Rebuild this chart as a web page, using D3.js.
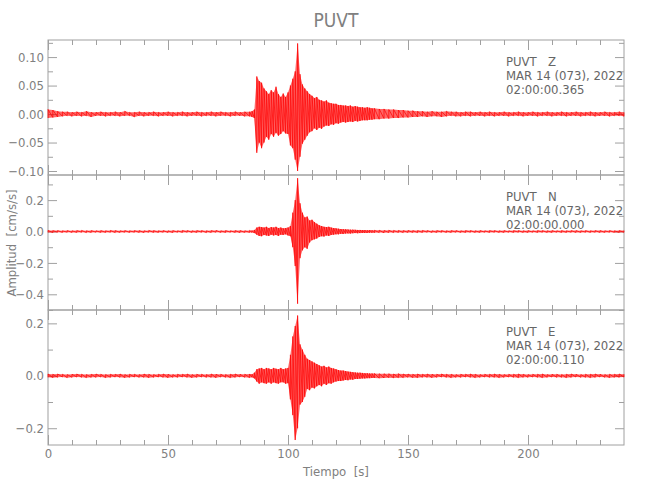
<!DOCTYPE html>
<html>
<head>
<meta charset="utf-8">
<script src="https://cdn.jsdelivr.net/npm/d3@7"></script>
<style>
  body { margin: 0; background: #fff; }
  svg text { font-family: "Liberation Sans Narrow", "DejaVu Sans Condensed", sans-serif; }
</style>
</head>
<body>
<script>
// Tiempo de cada muestra (s): 2 s en el ruido, 1 s durante el evento
const tiempo = [
  0,2,4,6,8,10,12,14,16,18,20,22,24,26,28,30,32,34,36,38,40,42,44,46,48,50,52,54,56,58,60,62,64,66,68,70,72,74,76,78,80,82,84,
  85,86,87,88,89,90,91,92,93,94,95,96,97,98,99,100,101,102,103,104,105,106,107,108,109,110,
  111,112,113,114,115,116,117,118,119,120,121,122,123,124,125,126,127,128,129,130,131,132,133,134,135,
  136,138,140,142,144,146,148,150,152,154,156,158,160,162,164,166,168,170,172,174,176,178,180,182,184,186,188,
  190,192,194,196,198,200,202,204,206,208,210,212,214,216,218,220,222,224,226,228,230,232,234,236,238,240
];

// Componente Z: envolvente max / min (cm/s/s)
const zMax = [
  0.008,0.007,0.005,0.004,0.004,0.003,0.004,0.003,0.005,0.003,0.003,0.004,0.003,0.003,0.004,0.003,0.005,0.003,0.003,0.004,
  0.003,0.003,0.004,0.003,0.003,0.004,0.003,0.003,0.004,0.003,0.003,0.004,0.003,0.003,0.004,0.003,0.004,0.003,0.003,0.004,
  0.003,0.004,0.004,
  0.005,0.008,0.066,0.058,0.055,0.045,0.040,0.035,0.042,0.038,0.048,0.035,0.030,0.036,0.030,0.038,0.050,0.062,0.075,0.124,
  0.070,0.052,0.045,0.040,0.035,0.032,0.028,0.030,0.025,0.024,0.022,0.024,0.020,0.019,0.018,0.018,0.016,0.016,0.015,0.015,
  0.014,0.015,0.013,0.014,0.013,0.012,0.012,0.011,0.012,0.011,0.010,
  0.010,0.009,0.009,0.008,0.008,0.007,0.007,0.006,0.006,0.005,0.005,0.004,0.005,0.004,0.004,0.005,0.004,0.004,0.003,0.004,
  0.004,0.003,0.004,0.003,0.004,0.003,0.003,0.004,0.003,0.003,0.004,0.003,0.003,0.004,0.003,0.003,0.004,0.003,0.003,0.004,
  0.003,0.003,0.004,0.003,0.003,0.004,0.003,0.003,0.004,0.003,0.003,0.004,0.003
];
const zMin = [
  -0.007,-0.006,-0.005,-0.004,-0.003,-0.004,-0.003,-0.004,-0.003,-0.005,-0.003,-0.003,-0.004,-0.003,-0.003,-0.004,-0.003,-0.003,-0.005,-0.003,
  -0.004,-0.003,-0.003,-0.004,-0.003,-0.003,-0.004,-0.003,-0.003,-0.004,-0.003,-0.003,-0.004,-0.003,-0.003,-0.004,-0.003,-0.003,-0.004,-0.003,
  -0.003,-0.004,-0.004,
  -0.005,-0.007,-0.068,-0.050,-0.060,-0.050,-0.040,-0.045,-0.035,-0.040,-0.033,-0.038,-0.035,-0.030,-0.034,-0.035,-0.055,-0.060,-0.080,-0.100,
  -0.075,-0.052,-0.045,-0.038,-0.032,-0.030,-0.025,-0.028,-0.024,-0.026,-0.022,-0.020,-0.021,-0.018,-0.019,-0.016,-0.017,-0.015,-0.014,-0.015,
  -0.014,-0.013,-0.014,-0.012,-0.013,-0.012,-0.011,-0.011,-0.011,-0.010,-0.010,
  -0.009,-0.009,-0.008,-0.008,-0.007,-0.007,-0.006,-0.006,-0.005,-0.005,-0.004,-0.005,-0.004,-0.004,-0.005,-0.004,-0.003,-0.004,-0.004,-0.003,
  -0.004,-0.003,-0.003,-0.004,-0.003,-0.004,-0.003,-0.003,-0.004,-0.003,-0.003,-0.004,-0.003,-0.003,-0.004,-0.003,-0.003,-0.004,-0.003,-0.003,
  -0.004,-0.003,-0.003,-0.004,-0.003,-0.003,-0.004,-0.003,-0.003,-0.004,-0.003,-0.003,-0.004
];

// Componente N
const nMax = [
  0.007,0.006,0.006,0.005,0.006,0.005,0.006,0.007,0.005,0.006,0.005,0.006,0.005,0.007,0.006,0.005,0.006,0.005,0.006,0.006,
  0.005,0.007,0.006,0.005,0.006,0.005,0.006,0.005,0.007,0.006,0.005,0.006,0.006,0.005,0.006,0.007,0.005,0.006,0.005,0.006,
  0.006,0.005,0.007,
  0.006,0.010,0.025,0.030,0.028,0.025,0.030,0.022,0.028,0.025,0.030,0.022,0.025,0.020,0.022,0.025,0.035,0.120,0.200,0.340,
  0.180,0.120,0.090,0.095,0.070,0.075,0.060,0.050,0.040,0.035,0.030,0.028,0.030,0.025,0.022,0.020,0.018,0.016,0.015,0.014,
  0.013,0.012,0.012,0.011,0.010,0.010,0.009,0.009,0.008,0.009,0.008,
  0.008,0.008,0.007,0.008,0.007,0.007,0.006,0.007,0.006,0.006,0.007,0.006,0.005,0.006,0.006,0.005,0.006,0.006,0.005,0.006,
  0.006,0.005,0.006,0.005,0.006,0.006,0.005,0.006,0.005,0.006,0.006,0.005,0.006,0.005,0.006,0.006,0.005,0.006,0.005,0.006,
  0.005,0.006,0.006,0.005,0.006,0.005,0.006,0.006,0.005,0.006,0.005,0.006,0.006
];
const nMin = [
  -0.006,-0.007,-0.005,-0.006,-0.005,-0.006,-0.006,-0.005,-0.007,-0.006,-0.005,-0.006,-0.006,-0.005,-0.007,-0.006,-0.005,-0.006,-0.005,-0.006,
  -0.007,-0.005,-0.006,-0.006,-0.005,-0.006,-0.007,-0.005,-0.006,-0.005,-0.006,-0.006,-0.005,-0.007,-0.006,-0.005,-0.006,-0.006,-0.005,-0.006,
  -0.007,-0.006,-0.006,
  -0.006,-0.010,-0.020,-0.028,-0.030,-0.022,-0.025,-0.028,-0.020,-0.025,-0.022,-0.028,-0.020,-0.022,-0.018,-0.025,-0.030,-0.100,-0.220,-0.460,
  -0.170,-0.120,-0.100,-0.110,-0.070,-0.055,-0.050,-0.045,-0.035,-0.030,-0.032,-0.025,-0.028,-0.022,-0.020,-0.018,-0.018,-0.015,-0.016,-0.013,
  -0.012,-0.013,-0.011,-0.010,-0.011,-0.010,-0.009,-0.009,-0.009,-0.008,-0.008,
  -0.008,-0.007,-0.008,-0.007,-0.007,-0.006,-0.007,-0.006,-0.006,-0.007,-0.006,-0.005,-0.006,-0.006,-0.005,-0.006,-0.006,-0.005,-0.006,-0.006,
  -0.005,-0.006,-0.006,-0.005,-0.006,-0.005,-0.006,-0.006,-0.005,-0.006,-0.005,-0.006,-0.006,-0.005,-0.006,-0.005,-0.006,-0.006,-0.005,-0.006,
  -0.006,-0.005,-0.006,-0.006,-0.005,-0.006,-0.005,-0.006,-0.006,-0.005,-0.006,-0.006,-0.005
];

// Componente E
const eMax = [
  0.007,0.006,0.007,0.006,0.005,0.006,0.007,0.006,0.005,0.006,0.007,0.006,0.005,0.006,0.006,0.007,0.005,0.006,0.006,0.005,
  0.007,0.006,0.005,0.006,0.007,0.006,0.005,0.006,0.006,0.007,0.005,0.006,0.006,0.005,0.007,0.006,0.006,0.005,0.006,0.007,
  0.006,0.006,0.007,
  0.006,0.012,0.025,0.028,0.030,0.025,0.030,0.028,0.025,0.030,0.027,0.025,0.030,0.025,0.028,0.030,0.080,0.150,0.190,0.230,
  0.120,0.100,0.080,0.065,0.060,0.055,0.050,0.045,0.040,0.035,0.038,0.032,0.035,0.030,0.028,0.025,0.022,0.020,0.020,0.018,
  0.016,0.015,0.014,0.013,0.012,0.012,0.011,0.010,0.010,0.009,0.009,
  0.009,0.008,0.008,0.008,0.007,0.008,0.007,0.007,0.006,0.007,0.006,0.007,0.006,0.006,0.007,0.006,0.006,0.005,0.006,0.006,
  0.007,0.006,0.005,0.006,0.006,0.007,0.006,0.005,0.006,0.006,0.007,0.006,0.005,0.006,0.006,0.007,0.005,0.006,0.006,0.005,
  0.006,0.007,0.006,0.005,0.006,0.006,0.007,0.006,0.005,0.006,0.006,0.007,0.006
];
const eMin = [
  -0.006,-0.007,-0.006,-0.005,-0.007,-0.006,-0.005,-0.006,-0.007,-0.006,-0.006,-0.005,-0.007,-0.006,-0.005,-0.006,-0.007,-0.006,-0.005,-0.006,
  -0.006,-0.007,-0.006,-0.005,-0.006,-0.007,-0.006,-0.006,-0.005,-0.006,-0.007,-0.006,-0.005,-0.006,-0.006,-0.007,-0.005,-0.006,-0.007,-0.006,
  -0.005,-0.006,-0.007,
  -0.006,-0.010,-0.022,-0.030,-0.025,-0.028,-0.030,-0.025,-0.030,-0.025,-0.028,-0.030,-0.025,-0.025,-0.030,-0.028,-0.090,-0.150,-0.245,-0.200,
  -0.110,-0.100,-0.080,-0.050,-0.055,-0.045,-0.048,-0.040,-0.035,-0.040,-0.030,-0.035,-0.028,-0.030,-0.025,-0.022,-0.020,-0.020,-0.018,-0.016,
  -0.017,-0.014,-0.015,-0.012,-0.012,-0.011,-0.010,-0.010,-0.009,-0.009,-0.008,
  -0.008,-0.009,-0.008,-0.007,-0.008,-0.007,-0.007,-0.006,-0.007,-0.007,-0.006,-0.006,-0.007,-0.006,-0.005,-0.006,-0.007,-0.006,-0.006,-0.005,
  -0.006,-0.007,-0.006,-0.005,-0.006,-0.006,-0.007,-0.006,-0.005,-0.006,-0.007,-0.006,-0.006,-0.005,-0.006,-0.007,-0.006,-0.005,-0.006,-0.006,
  -0.007,-0.006,-0.005,-0.006,-0.006,-0.007,-0.006,-0.005,-0.006,-0.007,-0.006,-0.006,-0.005
];

// Rangos y marcas de los ejes
const zRange = [-0.107, 0.13];
const nRange = [-0.5, 0.36];
const eRange = [-0.264, 0.251];
const zTicks = [-0.10, -0.05, 0.00, 0.05, 0.10];
const nTicks = [-0.4, -0.2, 0.0, 0.2];
const eTicks = [-0.2, 0.0, 0.2];
const xTicks = [0, 50, 100, 150, 200];

const estacion = "PUVT";
const fecha = "MAR 14 (073), 2022";
const componentes = ["Z", "N", "E"];
const horas = ["02:00:00.365", "02:00:00.000", "02:00:00.110"];

// --- dibujo ---
const width = 650, height = 500;
const left = 48, right = 624;
const panelTops = [40, 175, 310];
const panelH = 135;
const axisColor = "#a0a0a0", textColor = "#808080";

const svg = d3.select("body").append("svg")
  .attr("width", width)
  .attr("height", height);

const x = d3.scaleLinear().domain([0, 240]).range([left, right]);

const paneles = [
  { max: zMax, min: zMin, dom: zRange, ticks: zTicks, minorStep: 0.025, fmt: ".2f" },
  { max: nMax, min: nMin, dom: nRange, ticks: nTicks, minorStep: 0.1, fmt: ".1f" },
  { max: eMax, min: eMin, dom: eRange, ticks: eTicks, minorStep: 0.1, fmt: ".1f" }
];

paneles.forEach((p, i) => {
  if (p.max.length !== tiempo.length || p.min.length !== tiempo.length) {
    console.error("largo distinto", i, p.max.length, p.min.length, tiempo.length);
  }
  const top = panelTops[i], bottom = top + panelH;
  const y = d3.scaleLinear().domain(p.dom).range([bottom, top]);
  const g = svg.append("g");

  // marco
  g.append("rect")
    .attr("x", left).attr("y", top)
    .attr("width", right - left).attr("height", panelH)
    .attr("fill", "none").attr("stroke", axisColor).attr("stroke-width", 1);

  const minorY = d3.range(Math.ceil(p.dom[0] / p.minorStep) * p.minorStep, p.dom[1], p.minorStep)
    .filter(v => !p.ticks.some(t => Math.abs(t - v) < 1e-6));
  const minorX = d3.range(10, 240, 10).filter(v => v % 50 !== 0);

  function addAxis(axis, tx, ty, labels) {
    const a = g.append("g").attr("transform", `translate(${tx},${ty})`).call(axis);
    a.select(".domain").remove();
    a.selectAll("line").attr("stroke", axisColor);
    a.selectAll("text").attr("fill", textColor).attr("font-size", 13);
    if (!labels) a.selectAll("text").remove();
    return a;
  }

  // eje y izquierdo / derecho
  addAxis(d3.axisLeft(y).tickValues(p.ticks).tickSize(-9).tickPadding(4).tickFormat(d3.format(p.fmt)), left, 0, true);
  addAxis(d3.axisLeft(y).tickValues(minorY).tickSize(-5), left, 0, false);
  addAxis(d3.axisRight(y).tickValues(p.ticks).tickSize(-9), right, 0, false);
  addAxis(d3.axisRight(y).tickValues(minorY).tickSize(-5), right, 0, false);

  // eje x arriba / abajo
  addAxis(d3.axisTop(x).tickValues(xTicks).tickSize(-10), 0, top, false);
  addAxis(d3.axisTop(x).tickValues(minorX).tickSize(-5), 0, top, false);
  addAxis(d3.axisBottom(x).tickValues(xTicks).tickSize(-10).tickPadding(4), 0, bottom, i === 2);
  addAxis(d3.axisBottom(x).tickValues(minorX).tickSize(-5), 0, bottom, false);

  // senal: banda min/max y trazo en diente de sierra
  const filas = tiempo.map((t, k) => ({ t, hi: p.max[k], lo: p.min[k] }));
  g.append("path")
    .datum(filas)
    .attr("fill", "#ff0000")
    .attr("fill-opacity", 0.6)
    .attr("d", d3.area().x(d => x(d.t)).y0(d => y(d.lo)).y1(d => y(d.hi)));

  const zig = [];
  filas.forEach(d => { zig.push([d.t, d.lo], [d.t, d.hi]); });
  g.append("path")
    .datum(zig)
    .attr("fill", "none")
    .attr("stroke", "#ff0000")
    .attr("stroke-width", 0.7)
    .attr("d", d3.line().x(d => x(d[0])).y(d => y(d[1])));

  // etiquetas de estacion
  const info = g.append("text")
    .attr("x", 506).attr("y", top + 26)
    .attr("fill", "#666").attr("font-size", 13)
    .style("white-space", "pre");
  info.append("tspan").attr("x", 506).text(`${estacion}   ${componentes[i]}`);
  info.append("tspan").attr("x", 506).attr("dy", 14).text(fecha);
  info.append("tspan").attr("x", 506).attr("dy", 14).text(horas[i]);
});

// titulo y nombres de ejes
svg.append("text")
  .attr("x", (left + right) / 2).attr("y", 27)
  .attr("text-anchor", "middle")
  .attr("fill", textColor).attr("font-size", 19)
  .text(estacion);

svg.append("text")
  .attr("x", (left + right) / 2).attr("y", 476)
  .attr("text-anchor", "middle")
  .attr("fill", textColor).attr("font-size", 13)
  .style("white-space", "pre")
  .text("Tiempo  [s]");

svg.append("text")
  .attr("transform", "translate(16,243) rotate(-90)")
  .attr("text-anchor", "middle")
  .attr("fill", textColor).attr("font-size", 13)
  .style("white-space", "pre")
  .text("Amplitud  [cm/s/s]");
</script>
</body>
</html>
